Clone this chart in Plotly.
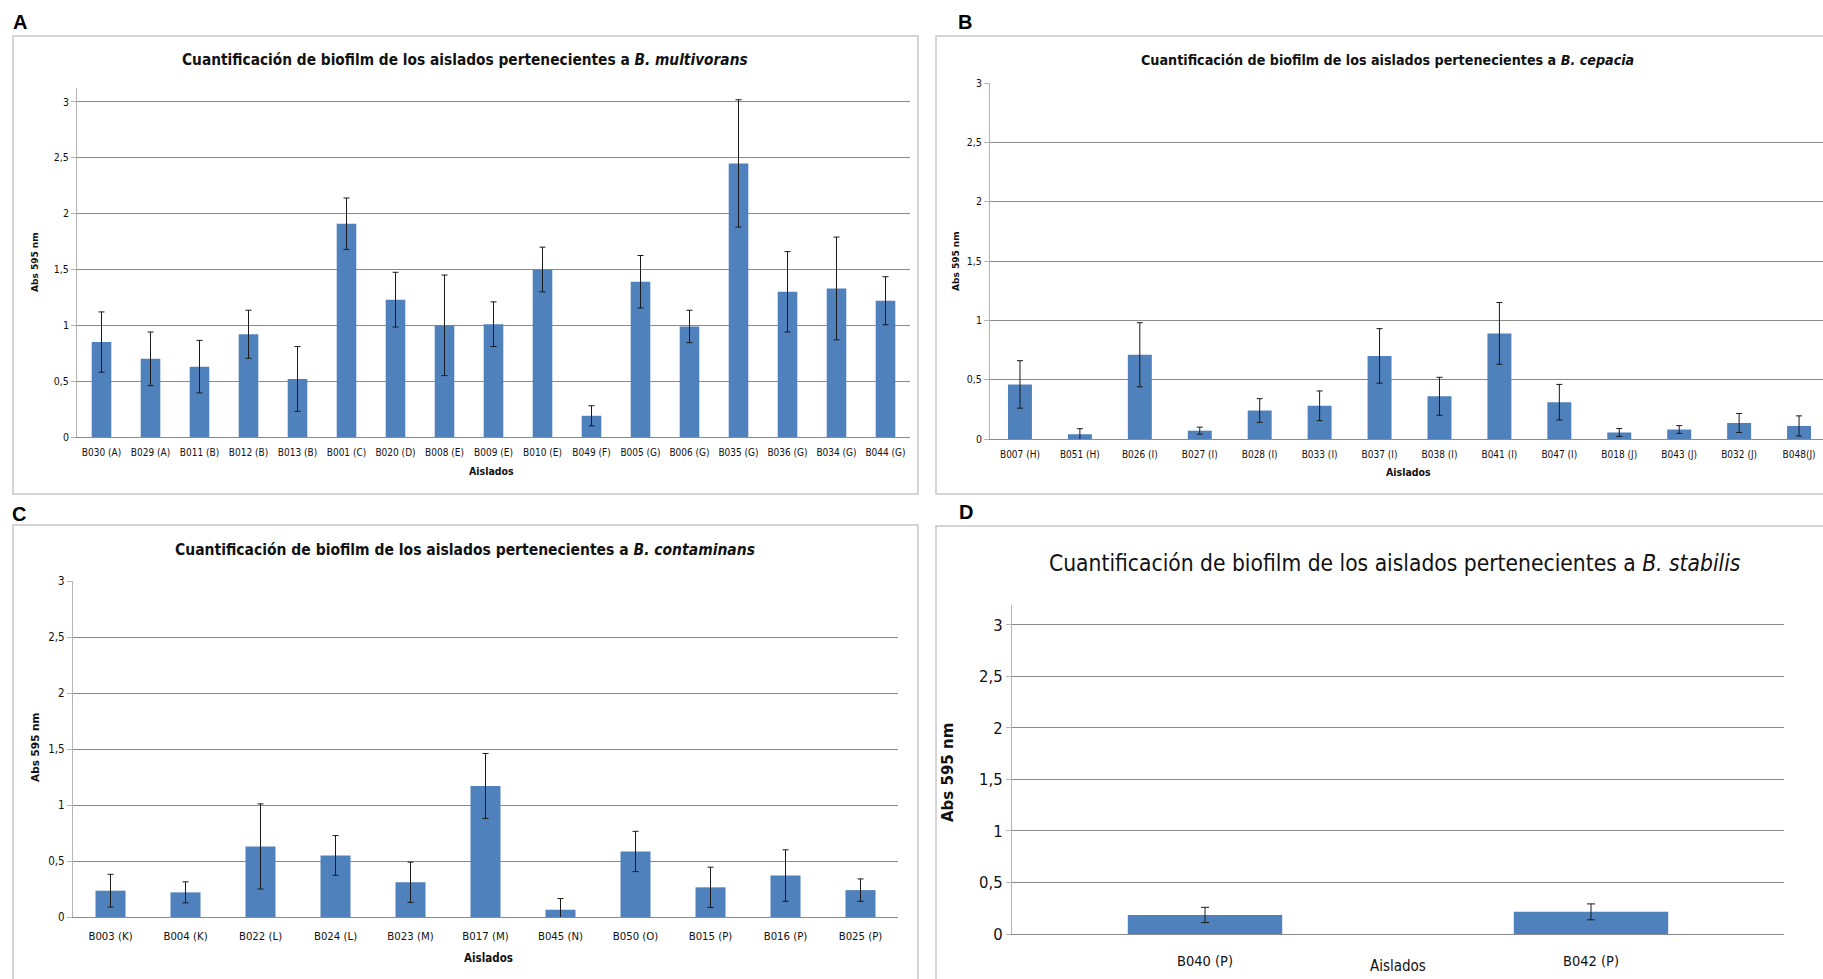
import plotly.graph_objects as go

W, H = 1823, 979

# ---- B. multivorans ----
cat_a = ["B030 (A)", "B029 (A)", "B011 (B)", "B012 (B)", "B013 (B)", "B001 (C)",
         "B020 (D)", "B008 (E)", "B009 (E)", "B010 (E)", "B049 (F)", "B005 (G)",
         "B006 (G)", "B035 (G)", "B036 (G)", "B034 (G)", "B044 (G)"]
abs_a = [0.85, 0.70, 0.63, 0.92, 0.52, 1.91, 1.23, 1.00, 1.01, 1.50, 0.19, 1.39,
         0.99, 2.45, 1.30, 1.33, 1.22]
err_a = [0.27, 0.24, 0.235, 0.215, 0.29, 0.23, 0.245, 0.45, 0.20, 0.20, 0.09, 0.235,
         0.145, 0.57, 0.36, 0.46, 0.215]

# ---- B. cepacia ----
cat_b = ["B007 (H)", "B051 (H)", "B026 (I)", "B027 (I)", "B028 (I)", "B033 (I)",
         "B037 (I)", "B038 (I)", "B041 (I)", "B047 (I)", "B018 (J)", "B043 (J)",
         "B032 (J)", "B048(J)"]
abs_b = [0.46, 0.04, 0.71, 0.07, 0.24, 0.28, 0.70, 0.36, 0.89, 0.31, 0.055, 0.08,
         0.135, 0.11]
err_b = [0.20, 0.047, 0.27, 0.03, 0.10, 0.125, 0.23, 0.16, 0.26, 0.15, 0.033, 0.033,
         0.08, 0.085]

# ---- B. contaminans ----
cat_c = ["B003 (K)", "B004 (K)", "B022 (L)", "B024 (L)", "B023 (M)", "B017 (M)",
         "B045 (N)", "B050 (O)", "B015 (P)", "B016 (P)", "B025 (P)"]
abs_c = [0.235, 0.22, 0.63, 0.55, 0.31, 1.17, 0.065, 0.585, 0.265, 0.37, 0.24]
err_c = [0.146, 0.094, 0.38, 0.177, 0.18, 0.29, 0.10, 0.18, 0.18, 0.23, 0.10]

# ---- B. stabilis ----
cat_d = ["B040 (P)", "B042 (P)"]
abs_d = [0.185, 0.215]
err_d = [0.074, 0.077]

y_tick_vals = [0, 0.5, 1, 1.5, 2, 2.5, 3]
y_tick_text = ["0", "0,5", "1", "1,5", "2", "2,5", "3"]

title_base = "Cuantificación de biofilm de los aislados pertenecientes a "
species = ["B. multivorans", "B. cepacia", "B. contaminans", "B. stabilis"]
panel_letters = ["A", "B", "C", "D"]
y_title = "Abs 595 nm"
x_title = "Aislados"

BAR = "#4F81BD"
GRID = "#8A8A8A"
NARROW = "DejaVu Sans Condensed, Liberation Sans Narrow, Arial Narrow, sans-serif"
WIDE = "DejaVu Sans, Verdana, sans-serif"


def px(x):
    return x / W


def py(y):
    return 1 - y / H


# pixel geometry of each panel: x-extent of plot, y of value 0, y of axis top,
# y-range top, x-range, font sizes
panels = [
    dict(cats=cat_a, vals=abs_a, errs=err_a, x0=77, x1=910, y0=437, ytop=88,
         yr=3.125, xr=[-0.5, len(cat_a) - 0.5], tick=10, ytick=10.5, cap=3,
         standoff=6,
         frame=(13, 36, 918, 494), title=(465, 60, 15.3, True),
         ytitle=(35, 262, 9), xtitle=(491, 471, 10.5, True), letter=(20, 22)),
    dict(cats=cat_b, vals=abs_b, errs=err_b, x0=990, x1=1823, y0=439, ytop=83,
         yr=3.0, xr=[-0.5, -0.5 + 833 / 59.93], tick=10, ytick=10.5, cap=3,
         standoff=6,
         frame=(936, 36, 1850, 494), title=(1387, 60, 14.2, True),
         ytitle=(956, 261, 9), xtitle=(1408, 472, 10.5, True), letter=(965, 22)),
    dict(cats=cat_c, vals=abs_c, errs=err_c, x0=73, x1=898, y0=917, ytop=581,
         yr=3.0, xr=[-0.5, len(cat_c) - 0.5], tick=11.3, ytick=11.5, cap=3,
         standoff=8,
         frame=(13, 525, 918, 1000), title=(465, 550, 15.5, True),
         ytitle=(35, 747, 10.5), xtitle=(489, 958, 11.5, True), letter=(19, 514)),
    dict(cats=cat_d, vals=abs_d, errs=err_d, x0=1012, x1=1784, y0=934, ytop=605,
         yr=3.194, xr=[-0.5, len(cat_d) - 0.5], tick=14.5, ytick=16.5, cap=4,
         standoff=14,
         frame=(936, 526, 1850, 1000), title=(1395, 563, 22.6, False),
         ytitle=(948, 773, 15), xtitle=(1398, 966, 15, False), letter=(966, 512)),
]

fig = go.Figure()
shapes = []
annotations = []
layout_axes = {}

for i, p in enumerate(panels):
    n = i + 1
    xa = "x" if n == 1 else f"x{n}"
    ya = "y" if n == 1 else f"y{n}"
    fig.add_trace(go.Bar(
        x=p["cats"], y=p["vals"], xaxis=xa, yaxis=ya,
        marker=dict(color=BAR, line=dict(width=0)),
        error_y=dict(type="data", array=p["errs"], visible=True,
                     color="#1A1A1A", thickness=1, width=p["cap"]),
        showlegend=False, hoverinfo="x+y",
    ))
    xkey = "xaxis" if n == 1 else f"xaxis{n}"
    ykey = "yaxis" if n == 1 else f"yaxis{n}"
    layout_axes[xkey] = dict(
        domain=[px(p["x0"]), px(p["x1"])], anchor=ya, type="category",
        range=p["xr"], showgrid=False, zeroline=False, showline=True,
        linecolor=GRID, linewidth=1, ticks="", fixedrange=True,
        automargin=False, ticklabelstandoff=p["standoff"],
        tickfont=dict(family=NARROW, size=p["tick"], color="#111111"),
        tickangle=0,
    )
    layout_axes[ykey] = dict(
        domain=[py(p["y0"]), py(p["ytop"])], anchor=xa, range=[0, p["yr"]],
        tickvals=y_tick_vals, ticktext=y_tick_text, showgrid=True,
        gridcolor=GRID, gridwidth=1, zeroline=False, showline=True,
        linecolor="#B5B5B5", linewidth=1, ticks="outside", ticklen=5,
        tickcolor="#B5B5B5", fixedrange=True, automargin=False,
        tickfont=dict(family=NARROW, size=p["ytick"], color="#111111"),
    )

    fx0, fy0, fx1, fy1 = p["frame"]
    shapes.append(dict(type="rect", xref="paper", yref="paper",
                       x0=px(fx0), x1=px(fx1), y0=py(fy1), y1=py(fy0),
                       line=dict(color="#C8C8C8", width=1.5), layer="below"))

    tx, ty, tsize, tbold = p["title"]
    ttext = title_base + f"<i>{species[i]}</i>"
    if tbold:
        ttext = f"<b>{ttext}</b>"
    annotations.append(dict(text=ttext, x=px(tx), y=py(ty), xref="paper",
                            yref="paper", showarrow=False, xanchor="center",
                            yanchor="middle",
                            font=dict(family=NARROW, size=tsize, color="#111111")))

    yx, yy, ysize = p["ytitle"]
    annotations.append(dict(text=f"<b>{y_title}</b>", x=px(yx), y=py(yy),
                            xref="paper", yref="paper", showarrow=False,
                            textangle=-90, xanchor="center", yanchor="middle",
                            font=dict(family=WIDE, size=ysize, color="#111111")))

    ax, ay, asize, abold = p["xtitle"]
    atext = f"<b>{x_title}</b>" if abold else x_title
    annotations.append(dict(text=atext, x=px(ax), y=py(ay), xref="paper",
                            yref="paper", showarrow=False, xanchor="center",
                            yanchor="middle",
                            font=dict(family=NARROW, size=asize, color="#111111")))

    lx, ly = p["letter"]
    annotations.append(dict(text=f"<b>{panel_letters[i]}</b>", x=px(lx), y=py(ly),
                            xref="paper", yref="paper", showarrow=False,
                            xanchor="center", yanchor="middle",
                            font=dict(family="Liberation Sans, Arial, sans-serif",
                                      size=20, color="#000000")))

fig.update_layout(
    width=W, height=H, margin=dict(l=0, r=0, t=0, b=0, autoexpand=False),
    paper_bgcolor="white", plot_bgcolor="white",
    bargap=0.6, shapes=shapes, annotations=annotations,
    **layout_axes,
)

fig.write_html("out.html", config={"displayModeBar": False})
